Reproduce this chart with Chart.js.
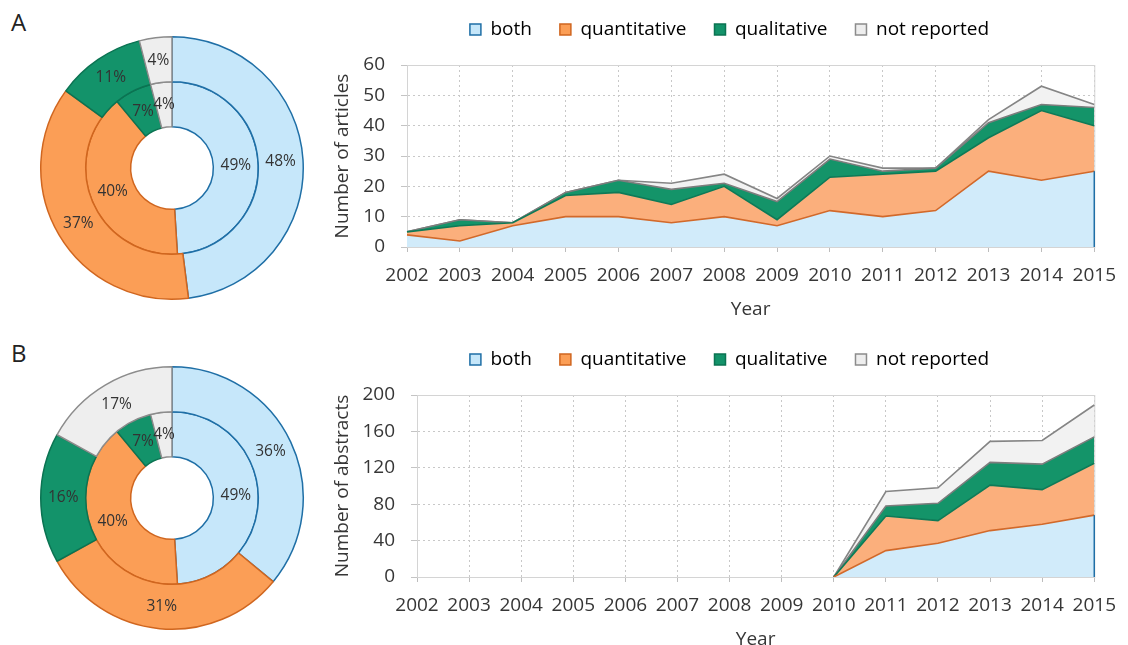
<!DOCTYPE html>
<html>
<head>
<meta charset="utf-8">
<script src="https://cdn.jsdelivr.net/npm/chart.js@4"></script>
<style>
  body { margin: 0; width: 1128px; height: 645px; overflow: hidden; background: #fff; position: relative; font-family: "Open Sans", sans-serif; }
  canvas { position: absolute; }
  .panel { position: absolute; font-size: 24px; color: #222; line-height: 1; }
</style>
</head>
<body>
<div class="panel" style="left:11px;top:10px">A</div>
<div class="panel" style="left:11px;top:341px">B</div>
<canvas id="pieA" width="266" height="266" style="left:39px;top:35px"></canvas>
<canvas id="pieB" width="266" height="266" style="left:39px;top:365px"></canvas>
<canvas id="areaA" width="798" height="325" style="left:330px;top:0px"></canvas>
<canvas id="areaB" width="798" height="325" style="left:330px;top:330px"></canvas>
<script>
// categories
const years = ["2002", "2003", "2004", "2005", "2006", "2007", "2008", "2009", "2010", "2011", "2012", "2013", "2014", "2015"];
const seriesNames = ["both", "quantitative", "qualitative", "not reported"];

// panel A - number of articles per year
const bothA = [4, 2, 7, 10, 10, 8, 10, 7, 12, 10, 12, 25, 22, 25];
const quantA = [1, 5, 1, 7, 8, 6, 10, 2, 11, 14, 13, 11, 23, 15];
const qualA = [0, 2, 0, 1, 4, 5, 1, 6, 6, 1, 1, 5, 2, 6];
const notRepA = [0, 0, 0, 0, 0, 2, 3, 1, 1, 1, 0, 1, 6, 1];

// panel B - number of abstracts per year (nothing before 2010)
const bothB = [null, null, null, null, null, null, null, null, 0, 29, 37, 51, 58, 68];
const quantB = [null, null, null, null, null, null, null, null, 0, 38, 25, 50, 38, 57];
const qualB = [null, null, null, null, null, null, null, null, 0, 11, 19, 25, 28, 29];
const notRepB = [null, null, null, null, null, null, null, null, 0, 16, 17, 23, 26, 35];

// donut percentages (outer ring, inner ring)
const outerA = [48, 37, 11, 4];
const innerA = [49, 40, 7, 4];
const outerB = [36, 31, 16, 17];
const innerB = [49, 40, 7, 4];

// colours
const pieFill = ["#c6e7fa", "#fb9e56", "#13936a", "#eeeeee"];
const pieEdge = ["#1f6fa6", "#d0661f", "#0b7352", "#8c8c8c"];
const areaFill = ["#d1ebfa", "#fbaf7c", "#149469", "#f2f2f2"];
// line on top of each band (the edge of the band above it)
const areaEdge = ["#d2692a", "#0e7a57", "#7d7d7d", "#858585"];

const textColor = "#363636";
const fontFamily = "'Open Sans', sans-serif";
Chart.defaults.font.family = fontFamily;
Chart.defaults.color = textColor;
Chart.defaults.devicePixelRatio = 1;

// percentage labels in the rings
const ringLabels = {
  id: "ringLabels",
  afterDatasetsDraw(chart) {
    const ctx = chart.ctx;
    ctx.save();
    ctx.font = "15.5px " + fontFamily;
    ctx.fillStyle = "#333";
    ctx.textAlign = "center";
    ctx.textBaseline = "middle";
    chart.data.datasets.forEach((ds, di) => {
      chart.getDatasetMeta(di).data.forEach((arc, i) => {
        const p = arc.tooltipPosition();
        ctx.fillText(ds.data[i] + "%", p.x, p.y);
      });
    });
    ctx.restore();
  }
};

function makePie(id, outer, inner) {
  return new Chart(document.getElementById(id), {
    type: "doughnut",
    plugins: [ringLabels],
    data: {
      labels: seriesNames,
      datasets: [
        { data: outer, backgroundColor: pieFill, borderColor: pieEdge, borderWidth: 1.5 },
        { data: inner, backgroundColor: pieFill, borderColor: pieEdge, borderWidth: 1.5 }
      ]
    },
    options: {
      responsive: false,
      animation: false,
      cutout: "31.5%",
      layout: { padding: 1 },
      plugins: { legend: { display: false }, tooltip: { enabled: false } }
    }
  });
}

// light frame round the plot area, and the blue right edge of the "both" band
const plotFrame = {
  id: "plotFrame",
  beforeDatasetsDraw(chart) {
    const a = chart.chartArea;
    const ctx = chart.ctx;
    ctx.save();
    ctx.strokeStyle = "#d4d4d4";
    ctx.lineWidth = 1;
    ctx.strokeRect(a.left + 0.5, a.top + 0.5, a.right - a.left, a.bottom - a.top);
    ctx.restore();
  },
  afterDatasetsDraw(chart) {
    const pts = chart.getDatasetMeta(0).data;
    const last = pts[pts.length - 1];
    const ctx = chart.ctx;
    ctx.save();
    ctx.strokeStyle = pieEdge[0];
    ctx.lineWidth = 1.5;
    ctx.beginPath();
    ctx.moveTo(last.x, last.y);
    ctx.lineTo(last.x, chart.chartArea.bottom);
    ctx.stroke();
    ctx.restore();
  }
};

// fixed legend height so the plot top lines up, legend moved up and right a little
const legendHeight = {
  id: "legendHeight",
  beforeInit(chart) {
    const fit = chart.legend.fit;
    chart.legend.fit = function () {
      fit.call(this);
      this.height = 58;
    };
  },
  afterLayout(chart) {
    const lg = chart.legend;
    lg.top -= 15;
    lg.bottom -= 15;
    lg.left += 12;
    lg.right += 12;
  }
};

function makeArea(id, series, yMax, yStep, yMinor, yWidth, yTitle) {
  const datasets = series.map((vals, i) => ({
    label: seriesNames[i],
    data: vals,
    backgroundColor: areaFill[i],
    borderColor: areaEdge[i],
    borderWidth: 1.6,
    pointRadius: 0,
    tension: 0,
    fill: i === 0 ? "origin" : "-1"
  }));
  return new Chart(document.getElementById(id), {
    type: "line",
    plugins: [plotFrame, legendHeight],
    data: { labels: years, datasets: datasets },
    options: {
      responsive: false,
      animation: false,
      layout: { padding: { top: 7, right: 23, left: 0, bottom: 0 } },
      plugins: {
        tooltip: { enabled: false },
        legend: {
          position: "top",
          labels: {
            boxWidth: 11,
            boxHeight: 11,
            padding: 28,
            font: { size: 19 },
            color: textColor,
            generateLabels: () => seriesNames.map((n, i) => ({
              text: n,
              fillStyle: pieFill[i],
              strokeStyle: pieEdge[i],
              lineWidth: 1.5,
              datasetIndex: i
            }))
          }
        }
      },
      scales: {
        x: {
          offset: false,
          afterFit: (s) => { s.height = 78; },
          grid: { color: "#c8c8c8", tickLength: 5, tickColor: "#bdbdbd" },
          border: { color: "#d0d0d0", dash: [2, 3] },
          ticks: { font: { size: 19 }, padding: 12, maxRotation: 0, autoSkip: false },
          title: { display: true, text: "Year", font: { size: 19 }, padding: { top: 2, bottom: 4 } }
        },
        y: {
          stacked: true,
          min: 0,
          max: yMax,
          afterFit: (s) => { s.width = yWidth; },
          grid: {
            color: (c) => (c.tick && c.tick.value % yStep === 0 ? "#c8c8c8" : "rgba(0,0,0,0)"),
            tickLength: 6,
            tickColor: "#c4c4c4"
          },
          border: { color: "#d0d0d0", dash: [2, 3] },
          ticks: {
            stepSize: yMinor,
            padding: 16,
            font: { size: 19 },
            callback: (v) => (v % yStep === 0 ? v : "")
          },
          title: { display: true, text: yTitle, font: { size: 19 }, padding: { top: 1, bottom: 1 } }
        }
      }
    }
  });
}

makePie("pieA", outerA, innerA);
makePie("pieB", outerB, innerB);
makeArea("areaA", [bothA, quantA, qualA, notRepA], 60, 10, 5, 77, "Number of articles");
makeArea("areaB", [bothB, quantB, qualB, notRepB], 200, 40, 20, 87, "Number of abstracts");
</script>
</body>
</html>
